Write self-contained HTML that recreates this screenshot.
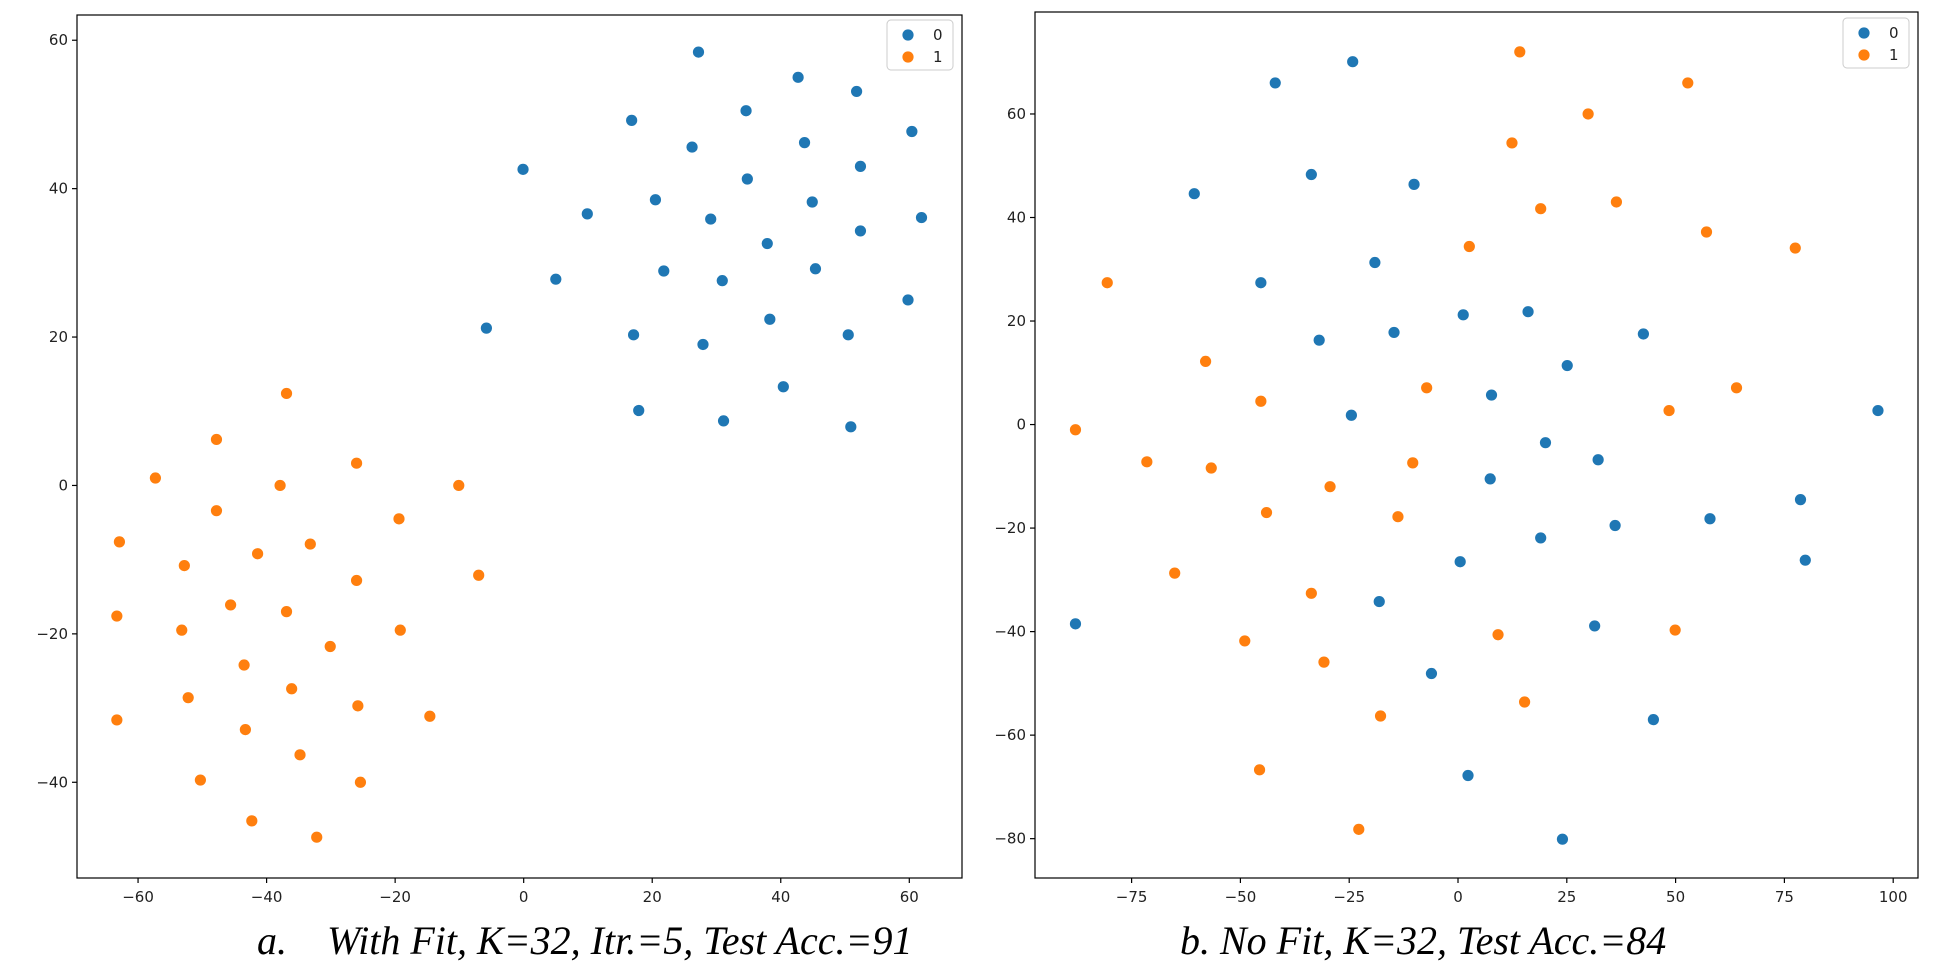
<!DOCTYPE html>
<html><head><meta charset="utf-8">
<style>
html,body{margin:0;padding:0;background:#fff;}
svg{display:block;}
text{font-family:"DejaVu Sans","Liberation Sans",sans-serif;}
.cap{font-family:"Liberation Serif",serif;font-style:italic;font-size:40px;fill:#000;}
</style></head>
<body>
<svg id="fig" width="1946" height="962" viewBox="0 0 1946 962" xmlns="http://www.w3.org/2000/svg">
<text class="cap" x="257" y="954" xml:space="preserve">a.    With Fit, K=32, Itr.=5, Test Acc.=91</text>
<text class="cap" x="1180" y="954">b. No Fit, K=32, Test Acc.=84</text>
</svg>
<script>
// ---- Panel A data ----
const aBlueX=[27.2,34.6,16.8,26.2,34.8,-0.1,20.5,29.1,9.9,21.8,30.9,5.0,-5.8,17.1,27.9,42.7,51.8,43.7,52.4,60.4,44.9,52.4,61.9,37.9,45.4,38.3,50.5,59.8,17.9,31.1,40.4,50.9];
const aBlueY=[58.4,50.5,49.2,45.6,41.3,42.6,38.5,35.9,36.6,28.9,27.6,27.8,21.2,20.3,19.0,55.0,53.1,46.2,43.0,47.7,38.2,34.3,36.1,32.6,29.2,22.4,20.3,25.0,10.1,8.7,13.3,7.9];
const aOrangeX=[-36.9,-47.8,-57.3,-37.9,-26.0,-10.1,-47.8,-62.9,-41.4,-33.2,-19.4,-52.8,-26.0,-7.0,-45.6,-36.9,-63.3,-53.2,-30.1,-19.2,-43.5,-36.1,-52.2,-25.8,-63.3,-43.3,-14.6,-34.8,-50.3,-25.4,-42.3,-32.2];
const aOrangeY=[12.4,6.2,1.0,0,3.0,0,-3.4,-7.6,-9.2,-7.9,-4.5,-10.8,-12.8,-12.1,-16.1,-17.0,-17.6,-19.5,-21.7,-19.5,-24.2,-27.4,-28.6,-29.7,-31.6,-32.9,-31.1,-36.3,-39.7,-40.0,-45.2,-47.4];
const aXTicks=[-60,-40,-20,0,20,40,60];
const aYTicks=[-40,-20,0,20,40,60];
// ---- Panel B data ----
const bBlueX=[-42.0,-24.2,-60.6,-33.7,-10.1,-19.1,-45.3,-31.9,-14.7,1.2,16.1,42.6,25.1,7.7,-24.5,96.5,20.1,32.2,7.4,78.7,57.9,36.1,19.0,0.5,79.8,-18.1,-87.9,31.4,-6.1,44.9,2.3,24.0];
const bBlueY=[66.0,70.1,44.6,48.3,46.4,31.3,27.4,16.3,17.8,21.2,21.8,17.5,11.4,5.7,1.8,2.7,-3.5,-6.8,-10.5,-14.5,-18.2,-19.5,-21.9,-26.5,-26.2,-34.2,-38.5,-38.9,-48.1,-57.0,-67.8,-80.1];
const bOrangeX=[14.2,52.8,29.9,12.4,19.0,36.4,57.1,77.5,2.6,-80.6,-58.0,-45.3,-7.2,48.5,64.0,-87.9,-71.5,-56.7,-10.4,-29.4,-44.0,-13.8,-65.1,-33.7,-49.0,9.2,49.9,-30.8,-17.8,15.3,-45.6,-22.8];
const bOrangeY=[72.0,66.0,60.0,54.4,41.7,43.0,37.2,34.1,34.4,27.4,12.2,4.5,7.1,2.7,7.1,-1.0,-7.2,-8.4,-7.4,-12.0,-17.0,-17.8,-28.7,-32.6,-41.8,-40.6,-39.7,-45.9,-56.3,-53.6,-66.7,-78.2];
const bXTicks=[-75,-50,-25,0,25,50,75,100];
const bYTicks=[-80,-60,-40,-20,0,20,40,60];
const seriesLabels=["0","1"];

const NS="http://www.w3.org/2000/svg";
const svg=document.getElementById('fig');
const BLUE="#1f77b4",ORANGE="#ff7f0e";
function mk(tag,attrs,parent){const e=document.createElementNS(NS,tag);for(const k in attrs)e.setAttribute(k,attrs[k]);(parent||svg).appendChild(e);return e;}
function fmt(v){return v<0?"\u2212"+Math.abs(v):String(v);}

function panel(p){
  const g=mk('g',{});
  
  
  const sx=v=>p.x0+(v-p.xmin)/(p.xmax-p.xmin)*(p.x1-p.x0);
  const sy=v=>p.y1-(v-p.ymin)/(p.ymax-p.ymin)*(p.y1-p.y0);
  const pts=mk('g',{},g);
  
  
  [[p.bx,p.by,BLUE,'class-0'],[p.ox,p.oy,ORANGE,'class-1']].forEach(s=>{
    for(let i=0;i<s[0].length;i++){
      const c=mk('circle',{cx:sx(s[0][i]),cy:sy(s[1][i]),r:5.6,fill:s[2]},pts);
      
      
    }
  });
  const fr=mk('rect',{x:p.x0,y:p.y0,width:p.x1-p.x0,height:p.y1-p.y0,fill:'none',stroke:'#000','stroke-width':1.2},g);
  
  
  p.xt.forEach(v=>{
    const x=sx(v);
    mk('line',{x1:x,x2:x,y1:p.y1,y2:p.y1+5,stroke:'#000','stroke-width':1.2},g);
    const t=mk('text',{x:x,y:p.y1+24,'text-anchor':'middle','font-size':15,fill:'#222'},g);
    t.textContent=fmt(v);
    
    
  });
  p.yt.forEach(v=>{
    const y=sy(v);
    mk('line',{x1:p.x0-5,x2:p.x0,y1:y,y2:y,stroke:'#000','stroke-width':1.2},g);
    const t=mk('text',{x:p.x0-9,y:y+5,'text-anchor':'end','font-size':15,fill:'#222'},g);
    t.textContent=fmt(v);
    
    
  });
  const lg=mk('g',{},g);
  
  
  mk('rect',{x:p.lx,y:p.ly,width:66,height:50,rx:4,fill:'#fff',stroke:'#ccc','stroke-width':1},lg);
  [BLUE,ORANGE].forEach((col,i)=>{
    const cy=p.ly+15+i*22;
    mk('circle',{cx:p.lx+21,cy:cy,r:5.6,fill:col},lg);
    const t=mk('text',{x:p.lx+46,y:cy+5,'font-size':15,fill:'#222'},lg);
    t.textContent=seriesLabels[i];
    
    
  });
}
panel({name:'plot-a',x0:77,x1:962,y0:15,y1:878,xmin:-69.5,xmax:68.2,ymin:-52.9,ymax:63.4,
  bx:aBlueX,by:aBlueY,ox:aOrangeX,oy:aOrangeY,xt:aXTicks,yt:aYTicks,lx:887,ly:20});
panel({name:'plot-b',x0:1035,x1:1918,y0:12,y1:878,xmin:-97.2,xmax:105.7,ymin:-87.6,ymax:79.7,
  bx:bBlueX,by:bBlueY,ox:bOrangeX,oy:bOrangeY,xt:bXTicks,yt:bYTicks,lx:1843,ly:18});
</script>
</body></html>
